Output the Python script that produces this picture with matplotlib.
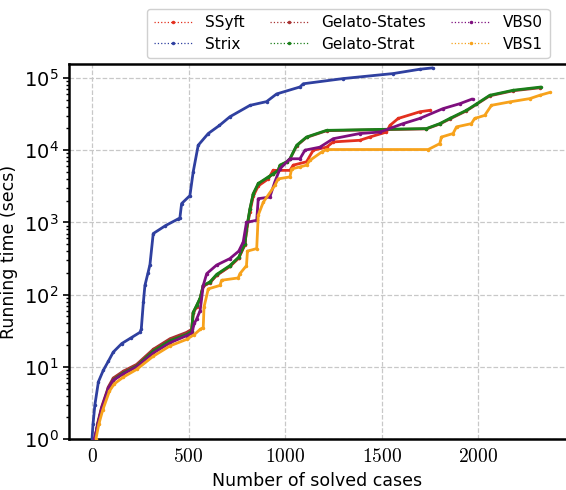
import matplotlib
matplotlib.use("Agg")
import matplotlib.pyplot as plt
from matplotlib.ticker import FixedLocator, FuncFormatter

plt.rcParams['mathtext.fontset'] = 'cm'
plt.rcParams['font.family'] = ['DejaVu Sans']

labels = ['SSyft', 'Strix', 'Gelato-States', 'Gelato-Strat', 'VBS0', 'VBS1']
colors = ['#e3301f', '#2f40a0', '#a83232', '#1a7f1a', '#7e0f7e', '#f7a21b']

# number of solved cases -> running time (secs)
ssyft_x = [15, 30, 50, 85, 110, 162, 231, 317, 404, 490, 516, 524, 542, 560, 576,
           611, 645, 714, 760, 792, 800, 818, 835, 861, 913, 938, 1025, 1042, 1111,
           1146, 1215, 1249, 1387, 1439, 1525, 1543, 1586, 1698, 1750]
ssyft_y = [1, 1.6, 2.6, 5, 6.6, 8.1, 10.1, 16, 22.5, 27.5, 30.5, 55, 68, 88, 130,
           148, 185, 245, 320, 490, 760, 1400, 2300, 3200, 4000, 5250, 5250, 6200, 6900,
           10000, 11000, 13000, 13700, 15200, 17800, 22000, 27500, 34000, 35600]

strix_x = [0, 5, 15, 33, 58, 85, 110, 154, 200, 248, 255, 266, 274, 290, 300,
           317, 380, 447, 455, 464, 507, 524, 550, 602, 660, 714, 818, 904, 956,
           1077, 1094, 1301, 1560, 1698, 1767]
strix_y = [1, 1.6, 3, 6.2, 8.9, 12, 16, 21, 25, 30, 33, 79, 134, 200, 260,
           700, 900, 1120, 1150, 1820, 2350, 5000, 11700, 17000, 22000, 29000, 41700, 47000, 60000,
           75000, 83000, 98000, 115000, 132000, 138000]

states_x = [15, 30, 50, 85, 110, 162, 231, 317, 404, 490, 516, 524, 542, 560, 576,
            611, 645, 714, 760, 792, 800, 818, 835, 861, 913, 938, 964, 973, 1008,
            1025, 1060, 1111, 1215, 1732, 1801, 1853, 1939, 1991, 2060, 2181, 2320]
states_y = [1, 1.7, 2.8, 5.3, 7, 8.7, 10.8, 17.5, 24.5, 30, 33, 56, 70, 88, 132,
            146, 185, 248, 325, 500, 790, 1520, 2450, 3400, 4200, 4650, 5200, 6100, 6800,
            7500, 11500, 15000, 18600, 19700, 23000, 27000, 35000, 43000, 56500, 66500, 73000]

strat_x = [15, 30, 50, 85, 110, 162, 231, 317, 404, 490, 516, 524, 542, 560, 576,
           611, 645, 714, 760, 792, 800, 818, 835, 861, 913, 938, 964, 973, 1008,
           1025, 1060, 1111, 1215, 1732, 1801, 1853, 1939, 1991, 2060, 2181, 2328]
strat_y = [1, 1.6, 2.6, 5, 6.6, 8.2, 10.2, 16.5, 23, 28, 31, 57, 71, 90, 134,
           150, 190, 252, 330, 505, 800, 1550, 2500, 3460, 4260, 4700, 5250, 6200, 6900,
           7600, 11700, 15200, 18800, 19900, 23300, 27500, 35600, 43600, 57500, 67500, 75000]

vbs0_x = [12, 30, 50, 85, 110, 162, 231, 317, 404, 490, 516, 530, 542, 560, 576,
          594, 645, 714, 760, 783, 800, 853, 861, 921, 947, 973, 1025, 1077, 1103,
          1180, 1249, 1387, 1491, 1611, 1698, 1818, 1905, 1973]
vbs0_y = [1, 1.6, 2.7, 5.1, 6.5, 8, 10, 15.5, 21.5, 27, 29, 40, 46, 60, 134,
          195, 256, 315, 400, 534, 1000, 1070, 2130, 2240, 3640, 5500, 7600, 7600, 10000,
          11000, 14400, 17000, 17800, 23300, 27500, 37600, 44000, 51500]

vbs1_x = [20, 35, 55, 90, 115, 162, 231, 317, 404, 490, 530, 560, 576, 580, 602,
          663, 671, 757, 766, 800, 805, 853, 861, 887, 947, 964, 1025, 1034, 1077,
          1111, 1128, 1189, 1215, 1741, 1801, 1810, 1870, 1888, 1965, 1982, 2034, 2069,
          2164, 2267, 2319, 2371]
vbs1_y = [1, 1.6, 2.5, 4.6, 5.8, 7.2, 9.2, 14, 19.5, 24, 28, 33, 35, 67, 120,
          134, 158, 170, 195, 252, 400, 434, 1260, 1900, 3250, 4000, 4260, 5500, 5860,
          6200, 7200, 9400, 10200, 10200, 12300, 15200, 17000, 21000, 23300, 27500, 30300, 41800,
          46600, 51700, 57500, 63000]

series = [(ssyft_x, ssyft_y), (strix_x, strix_y), (states_x, states_y),
          (strat_x, strat_y), (vbs0_x, vbs0_y), (vbs1_x, vbs1_y)]

fig = plt.figure(figsize=(5.66, 4.9), dpi=100)
ax = fig.add_axes([0.122, 0.104, 0.878, 0.765])

handles = []
for (xs, ys), lab, col in zip(series, labels, colors):
    # dense per-case markers make the curve look like a thick line
    ax.plot(xs, ys, '-', color=col, lw=2.0, solid_capstyle='butt', zorder=3)
    h, = ax.plot(xs, ys, ':', color=col, lw=0.9, marker='.', ms=3, label=lab, zorder=3)
    handles.append(h)

ax.set_yscale('log')
ax.set_xlim(-119, 2455)
ax.set_ylim(1, 1.55e5)

ax.xaxis.set_major_locator(FixedLocator([0, 500, 1000, 1500, 2000]))
ax.xaxis.set_major_formatter(FuncFormatter(lambda v, p: r'$%d$' % v))
ax.tick_params(axis='both', labelsize=14, width=1.2)
ax.tick_params(axis='x', length=0, pad=6)
ax.tick_params(axis='y', which='major', length=4)
ax.tick_params(axis='y', which='minor', length=2.5, width=1)

ax.grid(True, which='major', linestyle='--', color='#c8c8c8', lw=0.9)
ax.set_axisbelow(True)

for s in ['left', 'bottom', 'top']:
    ax.spines[s].set_linewidth(1.8)
ax.spines['right'].set_visible(False)

ax.set_xlabel('Number of solved cases', fontsize=12.5)
ax.set_ylabel('Running time (secs)', fontsize=12.5)

fig.legend(handles=handles, loc='upper center', bbox_to_anchor=(0.615, 0.998),
           ncol=3, fontsize=11, handlelength=2.6, columnspacing=1.6,
           labelspacing=0.4, borderpad=0.45, framealpha=1, edgecolor='#d0d0d0')

fig.savefig('out.png', dpi=100)
